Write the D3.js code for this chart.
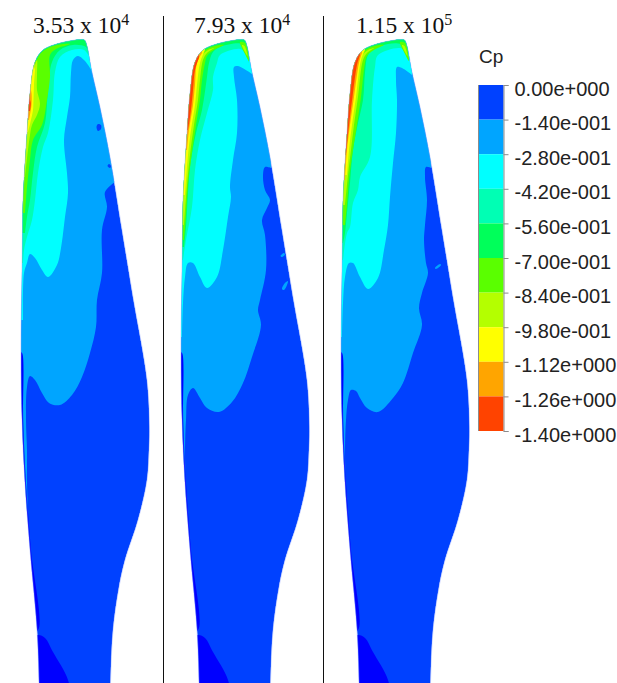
<!DOCTYPE html>
<html>
<head>
<meta charset="utf-8">
<style>
  body { margin: 0; background: #fff; }
  svg { display: block; }
</style>
<script src="https://cdn.jsdelivr.net/npm/d3@7"></script>
</head>
<body>
<svg id="chart" width="617" height="683"></svg>
<script>
// Cp colour bands
const cpTicks = [0, -0.14, -0.28, -0.42, -0.56, -0.7, -0.84, -0.98, -1.12, -1.26, -1.4]
const cpLabels = ['0.00e+000', '-1.40e-001', '-2.80e-001', '-4.20e-001', '-5.60e-001', '-7.00e-001',
  '-8.40e-001', '-9.80e-001', '-1.12e+000', '-1.26e+000', '-1.40e+000']
const bandColors = ['#0041ff', '#00a5ff', '#00ffff', '#00ffb4', '#00ff5a', '#5aff00', '#b4ff00', '#ffff00', '#ffa500', '#ff4300']
const rootColor = '#0000ff'

const titleBase = ['3.53 x 10', '7.93 x 10', '1.15 x 10']
const titleExp = ['4', '4', '5']
const titleStart = [33, 194, 356]

// blade shape, [chord, span]
const bladeOutline = [[80, 39.5], [84.5, 40], [87, 46], [92, 72], [100, 107], [110, 157], [122, 230], [133, 297], [147, 380], [149.5, 427],
  [149, 450], [147, 480], [138, 520], [125, 560], [119, 587], [113, 630], [110.5, 683], [110, 730], [39, 730], [39, 683], [37, 630], [30, 550],
  [25, 483], [22, 420], [21, 353], [22, 270], [22.5, 230], [23, 200], [27, 133], [30, 93], [35, 62], [43, 50], [60, 43], [72, 40.5]]
const rootPatch = [[38, 635], [45, 638], [53, 652], [68, 680], [70, 700], [30, 700], [30, 640]]
const edgeStripe = [[15, 350], [21, 352], [22.5, 354], [23.2, 420], [26, 483], [31, 550], [38, 630], [30, 630], [15, 480]]

// iso-Cp boundaries, blade 1
const b1L1 = [[115, 182], [105, 192], [107, 207], [102, 230], [102, 273], [97, 300], [96, 327], [90, 353], [82, 377], [72, 395],
  [60, 405], [49, 403], [42, 393], [35, 380], [30, 376], [27, 387], [26, 420], [27, 450], [27, 483], [28, 513]]
const b1L2 = [[92, 72], [90, 68], [84, 60], [78, 56], [73, 60], [71, 73], [70, 97], [67, 117], [64, 140], [67, 173], [68, 193],
  [65, 217], [61, 248], [57, 265], [48, 277], [42, 270], [35, 258], [30, 254], [27, 263], [24, 273], [23, 320]]
const b1L3 = [[89, 56], [84, 50], [72, 50], [60, 57], [55, 72], [53, 100], [48, 133], [43, 147], [38, 173], [35, 200], [32, 220],
  [27, 237], [24, 250], [23, 263]]
const b1L4 = [[88, 52], [86, 47], [73, 45], [60, 50], [52, 62], [48, 90], [45, 123], [37, 147], [33, 173], [30, 200], [27, 217], [25, 233]]
const b1L5 = [[36, 62], [40, 54], [48, 48], [60, 44.5], [70, 44], [56, 49], [50, 55], [50, 77], [47, 100], [42, 125], [33, 140],
  [30, 160], [27, 187], [25, 213]]
const b1L6 = [[35, 65], [37, 60], [37, 75], [37, 90], [40, 104], [37, 115], [32, 125], [30, 135], [28, 150], [25, 177]]
const b1L7 = [[34, 70], [35, 67], [34, 85], [33.5, 100], [33, 110], [30.5, 122], [28, 132]]
const b1L8 = [[30.5, 88], [31.5, 93], [31.5, 105], [29, 120]]
const b1L9 = [[30, 100], [30.8, 103], [30, 111]]
const b1Spots = [[[96.5, 127], [98, 124], [101, 125], [101, 129], [98, 131]], [[107.5, 166], [109, 164], [111, 166], [110, 168]]]

// blade 2
const b2L1 = [[111, 168], [105, 167], [103, 177], [105, 190], [110, 200], [107, 208], [102, 220], [105, 235], [106, 270], [100, 300],
  [98, 310], [101, 325], [92, 357], [83, 383], [72, 402], [59, 412], [47, 408], [40, 398], [33, 388], [28, 395], [26, 420], [25, 450], [26, 500]]
const b2L2 = [[92, 74], [78, 66], [74, 67], [74, 77], [77, 100], [77, 133], [73, 160], [70, 187], [71, 197], [68, 217], [63, 250],
  [57, 277], [47, 288], [40, 277], [33, 263], [28, 263], [25, 277], [23, 303], [22, 337]]
const b2L3 = [[89, 63], [85, 53], [80, 49], [60, 55], [57, 63], [53, 77], [53, 90], [47, 113], [40, 140], [35, 170], [32, 207], [26, 240], [23, 260]]
const b2L4 = [[88, 54], [84, 46], [80, 43.5], [60, 47], [53, 52], [49, 63], [47, 77], [42, 110], [36, 133], [30, 167], [28, 193], [26, 227], [24, 247]]
const b2L5 = [[35, 64], [39, 56], [46, 49.5], [56, 45.5], [64, 45], [54, 50], [47, 56], [45, 63], [42, 80], [40, 100], [36, 125], [31, 160], [28, 185], [26, 215], [24, 240]]
const b2L6 = [[36, 64], [41, 56], [48, 50], [54, 48], [47, 53], [43, 60], [40, 80], [38, 100], [34, 125], [30, 155], [27, 185], [24, 225]]
const b2L7 = [[45, 50], [40, 63], [37, 85], [35, 105], [31, 130], [28, 155], [25, 195]]
const b2L8 = [[42, 53], [37, 63], [35, 85], [33, 105], [29, 130], [27, 150]]
const b2L9 = [[39, 58], [35, 70], [33, 90], [31, 110], [28, 130]]
const b2Spots = [[[120.5, 256], [124, 253], [125, 254.5], [122, 257]], [[122, 289], [125, 283], [128, 281], [127, 285], [124, 290]]]

// blade 3
const b3L1 = [[111, 168], [106, 167], [105, 177], [107, 200], [105, 225], [104, 240], [106, 263], [108, 273], [102, 293], [99, 308],
  [102, 325], [93, 353], [83, 383], [73, 398], [58, 412], [47, 408], [40, 398], [36, 391], [31, 390], [28, 400], [26, 420], [25, 450], [26, 500]]
const b3L2 = [[92, 75], [82, 68], [77, 67], [76, 80], [77, 100], [76, 133], [73, 163], [70, 197], [68, 225], [64, 250], [58, 278],
  [48, 289], [40, 277], [33, 263], [29, 263], [25, 277], [23, 303], [22, 337]]
const b3L3 = [[88, 60], [85, 52], [80, 48], [58, 55], [55, 67], [52, 100], [50, 157], [40, 177], [38, 190], [33, 203], [30, 227], [27, 233], [23, 260]]
const b3L4 = [[88, 54], [84, 46], [78, 43.5], [68, 44], [55, 48], [48, 55], [45, 73], [43, 100], [38, 123], [33, 150], [30, 183], [27, 213], [25, 233], [23, 243]]
const b3L5 = [[35, 64], [39, 56], [46, 49.5], [56, 45.5], [64, 45], [54, 50], [47, 56], [45, 63], [41, 97], [37, 125], [33, 150], [29, 180], [27, 205], [25, 225]]
const b3L6 = [[36, 64], [41, 56], [48, 50], [54, 48], [47, 53], [43, 60], [38, 97], [34, 125], [31, 150], [28, 175], [25, 205]]
const b3L7 = [[45, 50], [41, 60], [36, 97], [32, 125], [29, 150], [27, 175]]
const b3L8 = [[42, 53], [39, 63], [34, 97], [30, 125], [27, 150], [25, 180]]
const b3L9 = [[40, 55], [37, 65], [32.5, 97], [29, 125], [26, 155]]
const b3Spots = [[[115, 268], [120, 264], [121, 265], [116, 269]]]

// patches on the trailing side of the tip: [band, points]
const b2Tip = [[5, [[80, 42], [85, 43], [89, 61], [85, 54]]], [6, [[82, 45], [84.5, 46], [87.5, 56], [85, 52]]]]
const b3Tip = [[5, [[80, 42], [85, 43], [89, 61], [85, 54]]], [6, [[82, 45], [84.5, 46], [87.5, 56], [85, 52]]]]

const blades = [
  { levels: [b1L1, b1L2, b1L3, b1L4, b1L5, b1L6, b1L7, b1L8, b1L9], spots: b1Spots, spotBand: 0, tip: [] },
  { levels: [b2L1, b2L2, b2L3, b2L4, b2L5, b2L6, b2L7, b2L8, b2L9], spots: b2Spots, spotBand: 1, tip: b2Tip },
  { levels: [b3L1, b3L2, b3L3, b3L4, b3L5, b3L6, b3L7, b3L8, b3L9], spots: b3Spots, spotBand: 1, tip: b3Tip }
]

const width = 617, height = 683
const panelOffset = [0, 160, 320]
const dividers = [163.5, 323.5]
const svg = d3.select('#chart')

const y = d3.scaleLinear().domain([0, height]).range([0, height])

blades.forEach((blade, i) => {
  const x = d3.scaleLinear().domain([0, 160]).range([panelOffset[i], panelOffset[i] + 160])
  const closedLine = d3.line().x(d => x(d[0])).y(d => y(d[1])).curve(d3.curveCatmullRomClosed.alpha(0.5))
  const openLine = d3.line().x(d => x(d[0])).y(d => y(d[1])).curve(d3.curveCatmullRom.alpha(0.5))
  const straight = d3.line().x(d => x(d[0])).y(d => y(d[1]))

  // a level fills everything on the leading edge side of its boundary
  function levelPath(pts) {
    const first = pts[0], last = pts[pts.length - 1]
    const rest = straight([[0, last[1]], [0, 0], [first[0], 0]])
    return openLine(pts) + 'L' + rest.slice(1) + 'Z'
  }

  svg.append('clipPath').attr('id', 'blade' + i)
    .append('path').attr('d', closedLine(bladeOutline))

  const g = svg.append('g').attr('clip-path', 'url(#blade' + i + ')')

  g.append('path').attr('d', closedLine(bladeOutline)).attr('fill', bandColors[0])
  g.append('path').attr('d', closedLine(rootPatch)).attr('fill', rootColor)

  blade.levels.forEach((pts, k) => {
    g.append('path').attr('d', levelPath(pts)).attr('fill', bandColors[k + 1])
    blade.tip.filter(t => t[0] == k + 1).forEach(t => {
      g.append('path').attr('d', closedLine(t[1])).attr('fill', bandColors[t[0]])
    })
    if (k == 0) {
      g.append('path').attr('d', closedLine(edgeStripe)).attr('fill', rootColor)
      if (blade.spotBand == 0) {
        blade.spots.forEach(s => g.append('path').attr('d', closedLine(s)).attr('fill', bandColors[0]))
      }
    }
  })

  if (blade.spotBand == 1) {
    blade.spots.forEach(s => g.append('path').attr('d', closedLine(s)).attr('fill', bandColors[1]))
  }

  // soft edge around the blade
  svg.append('path').attr('d', closedLine(bladeOutline))
    .attr('fill', 'none').attr('stroke', '#8fa4ff').attr('stroke-width', 0.8).attr('stroke-opacity', 0.55)

  // title
  const t = svg.append('text')
    .attr('x', titleStart[i]).attr('y', 33)
    .attr('font-family', '"Liberation Serif", serif')
    .attr('font-size', 23.5).attr('fill', '#111')
  t.append('tspan').text(titleBase[i])
  t.append('tspan').attr('dy', -8).attr('font-size', 16).text(titleExp[i])
})

// vertical dividers
svg.selectAll('line.divider').data(dividers).join('line')
  .attr('class', 'divider')
  .attr('x1', d => d).attr('x2', d => d)
  .attr('y1', 16).attr('y2', height)
  .attr('stroke', '#111').attr('stroke-width', 1)

// colour bar
const barX = d3.scaleLinear().domain([0, 1]).range([478.5, 503.5])
const barY = d3.scaleLinear().domain([0, -1.4]).range([85, 431])

svg.append('g').selectAll('rect')
  .data(bandColors)
  .join('rect')
  .attr('x', barX(0))
  .attr('width', barX(1) - barX(0))
  .attr('y', (d, i) => barY(cpTicks[i]))
  .attr('height', (d, i) => barY(cpTicks[i + 1]) - barY(cpTicks[i]))
  .attr('fill', d => d)

svg.append('line')
  .attr('x1', barX(0)).attr('x2', barX(0))
  .attr('y1', barY(0)).attr('y2', barY(-1.4))
  .attr('stroke', '#8c8c8c')

const axis = svg.append('g')
  .attr('transform', 'translate(' + barX(1) + ',0)')
  .call(d3.axisRight(barY).tickValues(cpTicks).tickFormat((d, i) => cpLabels[i]).tickSize(5).tickPadding(6))

axis.selectAll('path, line').attr('stroke', '#8c8c8c')
axis.selectAll('text')
  .attr('font-family', '"Liberation Sans", Arial, sans-serif')
  .attr('font-size', 20)
  .attr('fill', '#222')
  .attr('dy', '0.5em')

svg.append('text')
  .attr('x', 479).attr('y', 63)
  .attr('font-family', '"Liberation Sans", Arial, sans-serif')
  .attr('font-size', 19)
  .attr('fill', '#222')
  .text('Cp')
</script>
</body>
</html>
